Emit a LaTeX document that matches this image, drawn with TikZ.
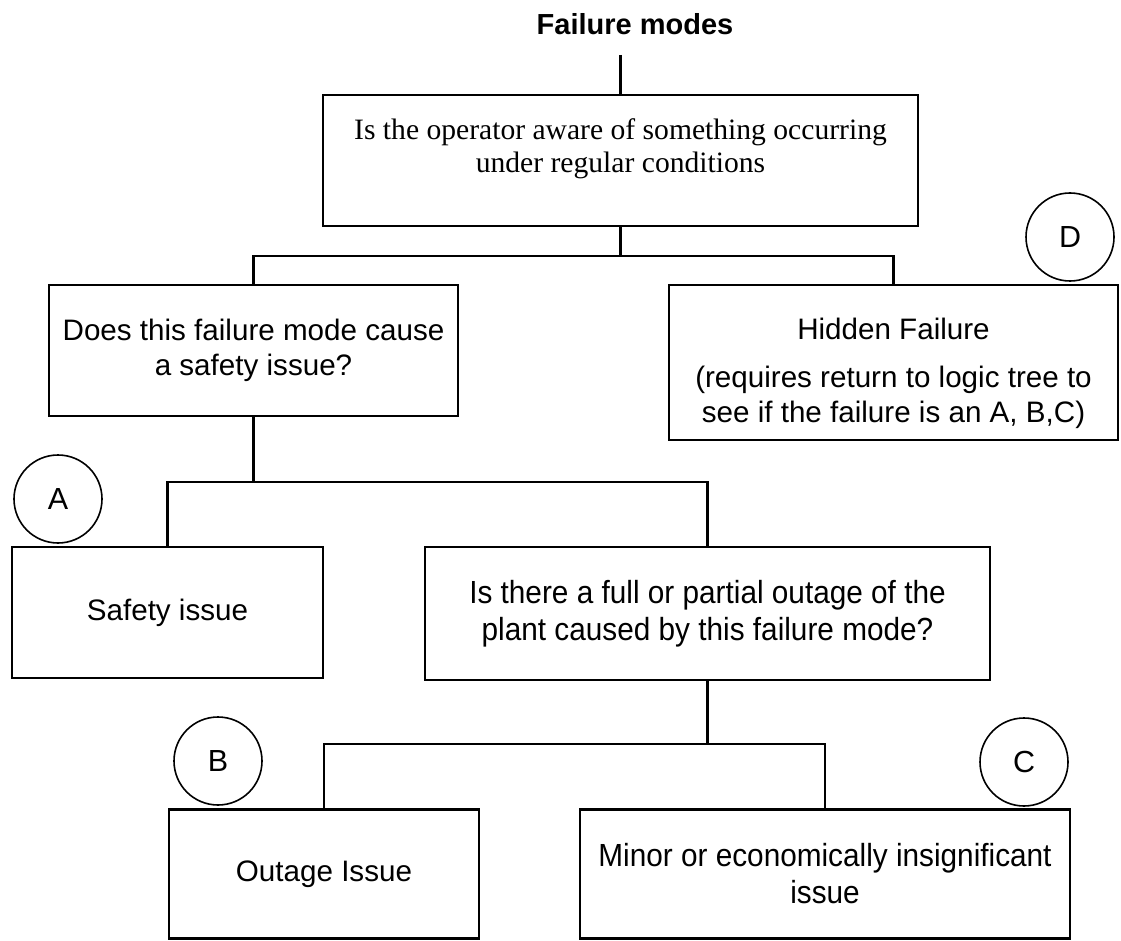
\documentclass[tikz,border=0pt]{standalone}
\usepackage{fontspec}
\setmainfont{Liberation Sans}
\newfontfamily\serifface{Liberation Serif}
\newfontfamily\narrowface[FakeStretch=0.93]{Liberation Sans}
\begin{document}
\begin{tikzpicture}[x=1pt,y=-1pt,
  box/.style={draw, line width=2.4pt, rectangle, inner sep=0pt, align=center,
              font=\fontsize{29.6}{35}\selectfont},
  narrowbox/.style={box, font=\narrowface\fontsize{32}{37}\selectfont},
  tag/.style={draw, circle, line width=1.6pt, minimum size=88pt, inner sep=0pt,
              font=\fontsize{30.5}{35}\selectfont},
  link/.style={line width=2.4pt}]
\useasboundingbox (0,0) rectangle (1121,941);

% title and root question
\node[font=\bfseries\fontsize{29}{35}\selectfont] (title) at (635,24) {Failure modes};
\coordinate (tail) at (620.5,55);
\node[box, minimum width=595pt, minimum height=131pt] (top) at (620.5,160.5) {};
\node[font=\serifface\fontsize{29.6}{33}\selectfont, align=center] (toptext) at (620.5,149)
  {Is the operator aware of something occurring\\under regular conditions};

% second level
\node[box, minimum width=409pt, minimum height=131pt] (q1) at (253.5,350.5)
  {Does this failure mode cause\\a safety issue?};
\node[box, minimum width=449pt, minimum height=155pt] (hidden) at (893.5,362.5) {};
\node[font=\fontsize{29.6}{35}\selectfont, align=center] (hiddentext) at (893.5,373)
  {Hidden Failure\\[13pt](requires return to logic tree to\\see if the failure is an A, B,C)};

% third level
\node[box, minimum width=311pt, minimum height=131pt] (safety) at (167.5,612.5) {Safety issue};
\node[narrowbox, minimum width=565pt, minimum height=133pt] (q2) at (707.5,613.5)
  {Is there a full or partial outage of the\\plant caused by this failure mode?};

% fourth level
\node[box, minimum width=310pt, minimum height=129pt] (outage) at (324,874) {Outage Issue};
\node[narrowbox, minimum width=490pt, minimum height=129pt] (minor) at (825,874)
  {Minor or economically insignificant\\issue};

% category markers
\node[tag] (D) at (1070,237) {D};
\node[tag] (A) at (58,499) {A};
\node[tag] (B) at (218,761) {B};
\node[tag] (C) at (1024,762) {C};

% connectors
\coordinate (split1) at (0,256);
\coordinate (split2) at (0,482);
\coordinate (split3) at (0,744);
\draw[link] (tail) -- (top.north);
\draw[link] (top.south) -- (top.south |- split1);
\draw[link] (q1.north) |- (hidden.north |- split1) -- (hidden.north);
\draw[link] (q1.south) -- (q1.south |- split2);
\draw[link] (safety.north) |- (q2.north |- split2) -- (q2.north);
\draw[link] (q2.south) -- (q2.south |- split3);
\draw[link] (outage.north) |- (minor.north |- split3) -- (minor.north);
\end{tikzpicture}
\end{document}
